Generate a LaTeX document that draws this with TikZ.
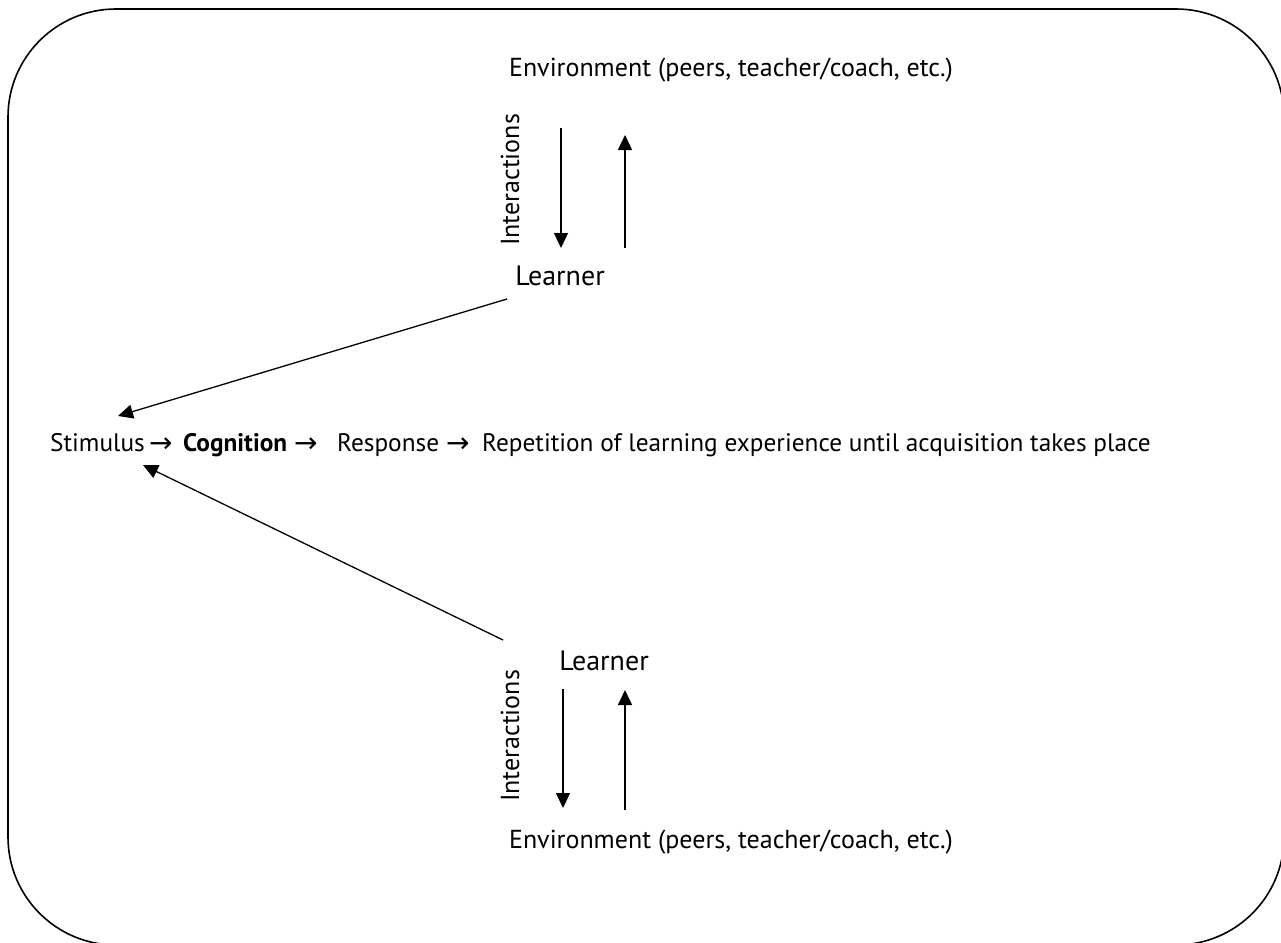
\documentclass[tikz,border=0pt]{standalone}
\usepackage{fontspec}
\setmainfont{PT Sans}
\newfontfamily\arrowfont{DejaVu Sans}
\usetikzlibrary{arrows.meta}
\begin{document}
\begin{tikzpicture}[x=1pt,y=-1pt,
  txt/.style={font=\fontsize{26}{30}\selectfont, inner sep=0pt},
  mtxt/.style={font=\fontsize{25.3}{30}\selectfont, inner sep=0pt, anchor=base west},
  lrn/.style={font=\fontsize{28}{32}\selectfont, inner sep=0pt},
  tarr/.style={font=\fontsize{28}{32}\selectfont\arrowfont, inner sep=0pt, anchor=base west},
  arr/.style={line width=1.3pt,-{Triangle[length=15pt,width=14pt]}},
  frame/.style={line width=1.6pt, rounded corners=108pt}]
\useasboundingbox (0,0) rectangle (1281,942);
\draw[frame] (8,9) rectangle (1284,945);

% top block
\node[txt, anchor=base] (env1) at (731,77) {Environment (peers, teacher/coach, etc.)};
\node[txt, rotate=90] (int1) at (510,180) {Interactions};
\node[lrn] (L1) at (560,276) {Learner};

% main line
\node[mtxt] (stim) at (50,451) {Stimulus};
\node[tarr] (ar1) at (149,452) {→};
\node[mtxt, font=\fontsize{25.3}{30}\selectfont\bfseries] (cog) at (183,451) {Cognition};
\node[tarr] (ar2) at (294,452) {→};
\node[mtxt] (resp) at (337,451) {Response};
\node[tarr] (ar3) at (446,452) {→};
\node[mtxt] (rep) at (482,451) {Repetition of learning experience until acquisition takes place};

% bottom block
\node[lrn] (L2) at (604,661) {Learner};
\node[txt, rotate=90] (int2) at (510,736) {Interactions};
\node[txt, anchor=base] (env2) at (731,848) {Environment (peers, teacher/coach, etc.)};

% connector end points
\coordinate (t1a) at (561,128); \coordinate (t1b) at (561,248);
\coordinate (t2a) at (625,248); \coordinate (t2b) at (625,135);
\coordinate (b1a) at (563,689); \coordinate (b1b) at (563,808);
\coordinate (b2a) at (625,810); \coordinate (b2b) at (625,690);
\coordinate (L1out) at (507,299);
\coordinate (L2out) at (503,640);
\coordinate (stimA) at (118,416);
\coordinate (stimB) at (143,465);

\draw[arr] (t1a) -- (t1b);
\draw[arr] (t2a) -- (t2b);
\draw[arr] (b1a) -- (b1b);
\draw[arr] (b2a) -- (b2b);
\draw[arr] (L1out) -- (stimA);
\draw[arr] (L2out) -- (stimB);
\end{tikzpicture}
\end{document}
